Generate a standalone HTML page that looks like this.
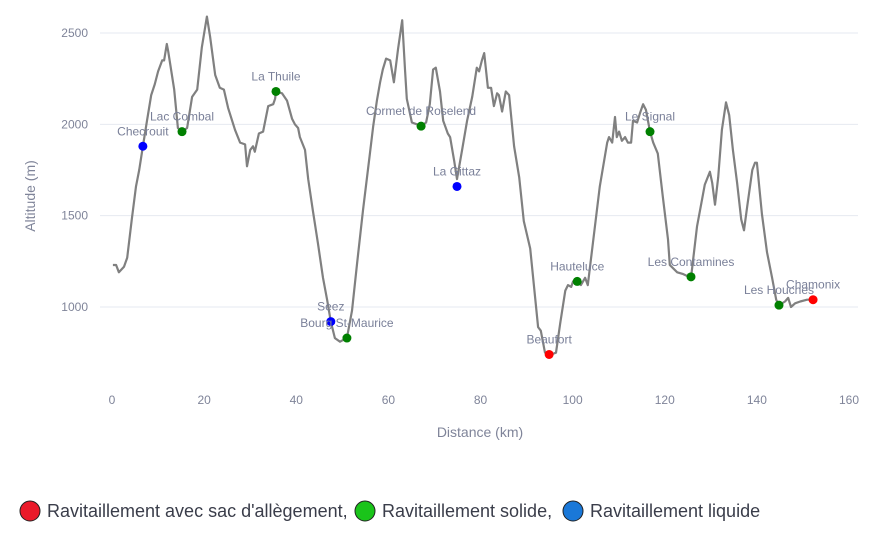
<!DOCTYPE html>
<html><head><meta charset="utf-8"><style>
body{margin:0;background:#fff;width:890px;height:545px;overflow:hidden;font-family:"Liberation Sans",sans-serif}
svg text{font-family:"Liberation Sans",sans-serif}
</style></head><body>
<svg id="chart" width="890" height="545" xmlns="http://www.w3.org/2000/svg">
<g id="grid"></g>
<g id="yticks"></g>
<g id="xticks"></g>
<text x="0" y="0" transform="translate(35,196) rotate(-90)" text-anchor="middle" font-size="14" fill="#7f8499">Altitude (m)</text>
<text x="480" y="437" text-anchor="middle" font-size="14" fill="#7f8499">Distance (km)</text>
<path id="profile" fill="none" stroke="#808080" stroke-width="2.2" stroke-linejoin="round"></path>
<g id="markers"></g>
<g font-size="18" fill="#3a3d4a">
<circle cx="30" cy="511" r="10" fill="#ea1a2a" stroke="#222" stroke-width="1"/>
<text x="47" y="517">Ravitaillement avec sac d'allègement,</text>
<circle cx="365" cy="511" r="10" fill="#1ac41a" stroke="#222" stroke-width="1"/>
<text x="382" y="517">Ravitaillement solide,</text>
<circle cx="573" cy="511" r="10" fill="#1a78d8" stroke="#222" stroke-width="1"/>
<text x="590" y="517">Ravitaillement liquide</text>
</g>
</svg>
<script>
const km=[0.2,0.9,1.5,2.6,3.3,4.3,5.2,5.9,6.7,7.6,8.5,9.3,10.0,10.9,11.3,11.9,12.2,13.5,14.3,15.2,16.3,17.4,18.5,19.5,20.6,21.3,22.4,23.4,24.3,25.2,26.7,27.8,28.9,29.3,30.0,30.6,31.0,31.9,32.8,33.9,35.0,35.4,35.6,36.9,38.0,39.1,39.7,40.4,40.8,41.9,42.6,43.6,44.7,45.8,46.7,47.5,48.4,49.5,50.2,51.0,52.1,53.2,54.5,56.0,56.7,57.5,58.2,58.8,59.5,60.4,61.2,62.1,63.0,63.6,64.0,65.1,66.2,67.1,68.2,69.0,69.7,70.3,71.2,71.9,72.9,73.4,74.3,74.9,76.0,77.1,78.2,79.2,79.7,80.3,80.8,81.6,82.3,82.9,83.6,84.0,84.7,85.5,86.2,87.3,88.4,89.4,90.8,92.5,93.1,94.0,95.3,96.4,97.3,98.4,99.0,99.7,100.1,101.0,101.8,102.7,103.3,104.4,105.9,107.5,107.9,108.6,109.2,109.6,110.1,110.7,111.4,112.0,112.7,113.1,114.0,114.6,115.3,115.9,116.8,117.5,118.5,119.6,120.7,121.1,122.7,124.0,125.7,127.0,128.1,128.7,129.8,130.3,130.9,131.6,132.4,133.3,134.0,134.8,135.7,136.6,137.2,137.9,139.0,139.6,140.0,141.1,142.2,143.3,144.2,144.8,146.1,146.8,147.4,148.3,149.4,150.9,152.2];
const alt=[1230,1230,1190,1220,1270,1480,1660,1750,1880,2020,2160,2220,2290,2350,2350,2440,2400,2190,1980,1960,1980,2150,2190,2420,2590,2480,2270,2200,2190,2090,1970,1900,1890,1770,1860,1880,1850,1950,1960,2100,2110,2140,2180,2170,2130,2030,2000,1980,1930,1860,1700,1530,1350,1160,1040,920,830,810,820,830,980,1240,1530,1840,1990,2130,2230,2300,2360,2350,2230,2410,2570,2300,2140,2010,2000,1990,2010,2110,2300,2310,2180,2020,1950,1930,1800,1700,1860,2020,2150,2310,2290,2350,2390,2200,2200,2100,2170,2160,2070,2180,2160,1880,1710,1470,1320,890,870,750,740,750,910,1090,1120,1110,1140,1140,1120,1160,1120,1350,1660,1900,1930,1900,2040,1930,1960,1910,1930,1900,1900,2020,2010,2060,2110,2080,1960,1900,1840,1600,1370,1230,1190,1180,1160,1440,1590,1670,1740,1680,1560,1710,1970,2120,2050,1860,1680,1480,1420,1550,1750,1790,1790,1510,1300,1160,1040,1010,1030,1050,1000,1020,1030,1040,1040];
const stationNames=["Checrouit","Lac Combal","La Thuile","Seez","Bourg St-Maurice","Cormet de Roselend","La Gittaz","Beaufort","Hauteluce","Le Signal","Les Contamines","Les Houches","Chamonix"];
const stationKm=[6.7,15.2,35.6,47.5,51.0,67.1,74.9,94.9,101.0,116.8,125.7,144.8,152.2];
const stationAlt=[1880,1960,2180,920,830,1990,1660,740,1140,1960,1165,1010,1040];
const stationType=["liquid","solid","solid","liquid","solid","solid","liquid","bag","solid","solid","solid","solid","bag"];
const xTicks=[0,20,40,60,80,100,120,140,160];
const yTicks=[1000,1500,2000,2500];
const NS="http://www.w3.org/2000/svg";
const X=v=>112+v*(849-112)/160;
const Y=v=>33+(2500-v)*(307-33)/1500;
function mk(tag,attrs,parent){const e=document.createElementNS(NS,tag);for(const k in attrs)e.setAttribute(k,attrs[k]);parent.appendChild(e);return e;}
const grid=document.getElementById('grid'),yt=document.getElementById('yticks'),xt=document.getElementById('xticks');
yTicks.forEach(v=>{
 const l=mk('line',{x1:100,x2:858,y1:Y(v),y2:Y(v),stroke:'#e6e9f0','stroke-width':1},grid);
 
 
 const t=mk('text',{x:88,y:Y(v)+4,'text-anchor':'end','font-size':12,fill:'#7f8499'},yt);
 t.textContent=v;
 
 
});
xTicks.forEach(v=>{
 const t=mk('text',{x:X(v),y:404,'text-anchor':'middle','font-size':12,fill:'#7f8499'},xt);
 t.textContent=v;
 
 
});
document.getElementById('profile').setAttribute('d',km.map((k,i)=>(i?'L':'M')+X(k).toFixed(1)+','+Y(alt[i]).toFixed(1)).join(''));
const colors={bag:'#ff0000',solid:'#008000',liquid:'#0000ff'};
const mg=document.getElementById('markers');
stationNames.forEach((n,i)=>{
 const c=mk('circle',{cx:X(stationKm[i]),cy:Y(stationAlt[i]),r:4.5,fill:colors[stationType[i]]},mg);
 
 
 const t=mk('text',{x:X(stationKm[i]),y:Y(stationAlt[i])-11,'text-anchor':'middle','font-size':12,fill:'#7a8099'},mg);
 t.textContent=n;
 
 
});
</script>
</body></html>
